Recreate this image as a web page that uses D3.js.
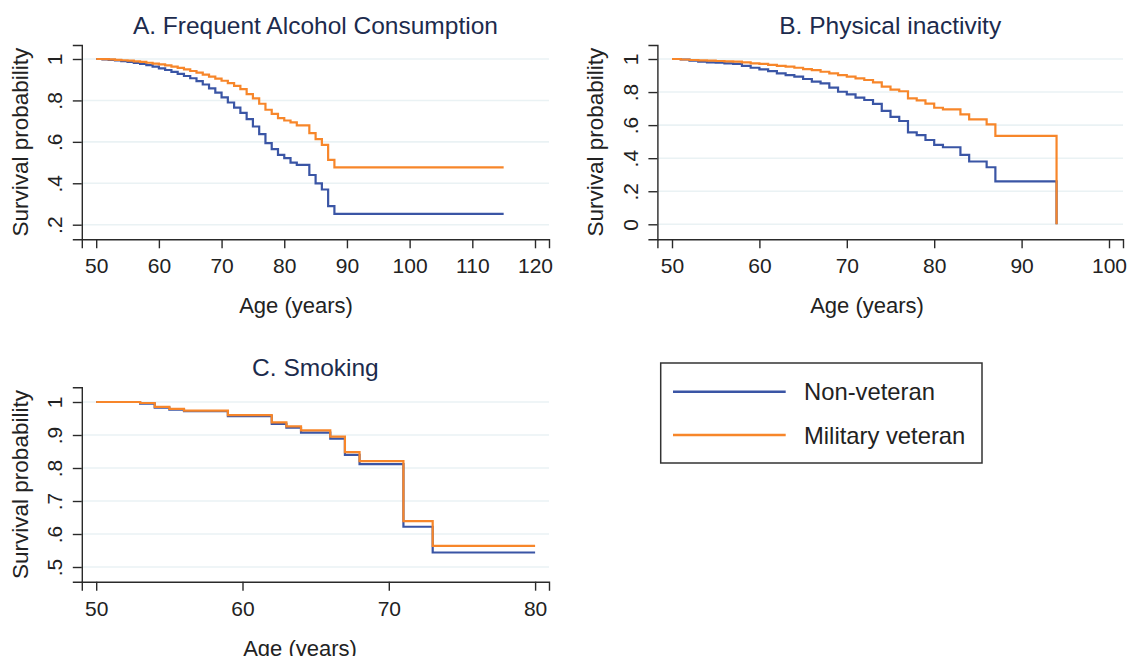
<!DOCTYPE html>
<html>
<head>
<meta charset="utf-8">
<script src="https://cdn.jsdelivr.net/npm/d3@7"></script>
<style>
  body { margin: 0; background: #fff; }
  svg { display: block; }
</style>
</head>
<body>
<div id="chart"></div>
<script>

var width = 1129
var height = 656

// survival data (age in years, survival probability)
var alcoholAges = [50,51,52,53,54,55,56,57,58,59,60,61,62,63,64,65,66,67,68,69,70,71,72,73,74,75,76,77,78,79,80,81,82,83,84,85,86,87,88,115];
var alcoholNonVet = [1.0,0.998,0.996,0.993,0.99,0.986,0.981,0.976,0.97,0.963,0.955,0.947,0.938,0.928,0.918,0.907,0.893,0.877,0.858,0.838,0.815,0.79,0.765,0.74,0.71,0.674,0.637,0.594,0.565,0.537,0.521,0.50,0.489,0.489,0.44,0.40,0.37,0.29,0.252,0.252];
var alcoholVet = [1.0,0.999,0.998,0.996,0.994,0.992,0.989,0.986,0.982,0.978,0.974,0.969,0.963,0.957,0.95,0.942,0.934,0.925,0.915,0.905,0.895,0.884,0.87,0.855,0.83,0.81,0.784,0.755,0.735,0.715,0.703,0.694,0.68,0.68,0.642,0.613,0.585,0.513,0.477,0.477];

var inactAges = [50,51,52,53,54,55,56,57,58,59,60,61,62,63,64,65,66,67,68,69,70,71,72,73,74,75,76,77,78,79,80,81,82,83,84,85,86,87,94];
var inactNonVet = [1.0,0.997,0.99,0.984,0.98,0.978,0.974,0.97,0.958,0.947,0.937,0.927,0.913,0.903,0.893,0.879,0.863,0.853,0.827,0.802,0.786,0.766,0.752,0.728,0.686,0.65,0.625,0.556,0.54,0.51,0.48,0.466,0.466,0.42,0.38,0.38,0.345,0.26,0];
var inactVet = [1.0,0.997,0.994,0.992,0.99,0.988,0.986,0.984,0.98,0.974,0.97,0.964,0.958,0.954,0.947,0.939,0.933,0.923,0.913,0.903,0.893,0.883,0.873,0.859,0.833,0.815,0.805,0.762,0.75,0.73,0.705,0.695,0.695,0.665,0.635,0.635,0.605,0.535,0];

var smokeAges = [50,53,54,55,56,59,62,63,64,66,67,68,71,73,80];
var smokeNonVet = [1.0,0.995,0.983,0.977,0.972,0.957,0.934,0.922,0.907,0.889,0.84,0.812,0.622,0.544,0.544];
var smokeVet = [1.0,0.997,0.985,0.979,0.974,0.96,0.938,0.926,0.914,0.895,0.848,0.821,0.639,0.564,0.564];

// tick labels
var alcoholXTicks = [50,60,70,80,90,100,110,120];
var alcoholYTicks = [0.2,0.4,0.6,0.8,1];
var inactXTicks = [50,60,70,80,90,100];
var inactYTicks = [0,0.2,0.4,0.6,0.8,1];
var smokeXTicks = [50,60,70,80];
var smokeYTicks = [0.5,0.6,0.7,0.8,0.9,1];

var seriesNames = ["Non-veteran", "Military veteran"];
var seriesColors = ["#3a55a5", "#f7862a"];

var font = "'Liberation Sans', Arial, Helvetica, sans-serif";

var svg = d3.select("#chart").append("svg")
    .attr("width", width)
    .attr("height", height);

function fmtProb(d) {
    if (d === 0) return "0";
    if (d === 1) return "1";
    return d3.format(".1f")(d).replace("0.", ".");
}

function drawPanel(p) {
    // scales: calibrate on the tick values, then stretch to the axis line extent
    var x = d3.scaleLinear().domain(p.xCal).range(p.xCalPx);
    x.domain([x.invert(p.left), x.invert(p.right)]).range([p.left, p.right]);
    var y = d3.scaleLinear().domain(p.yCal).range(p.yCalPx);
    y.domain([y.invert(p.bottom), y.invert(p.top)]).range([p.bottom, p.top]);

    var g = svg.append("g");

    // grid
    g.selectAll(".grid")
        .data(p.yTicks)
        .enter().append("line")
        .attr("x1", p.left)
        .attr("x2", p.right)
        .attr("y1", function(d) { return y(d); })
        .attr("y2", function(d) { return y(d); })
        .attr("stroke", "#eaf2f4")
        .attr("stroke-width", 1.6);

    // curves
    var line = d3.line()
        .x(function(d) { return x(d[0]); })
        .y(function(d) { return y(d[1]); })
        .curve(d3.curveStepAfter);

    [p.nonVet, p.vet].forEach(function(vals, k) {
        var pts = p.ages.map(function(a, i) { return [a, vals[i]]; });
        g.append("path")
            .datum(pts)
            .attr("d", line)
            .attr("fill", "none")
            .attr("stroke", seriesColors[k])
            .attr("stroke-width", 2.2);
    });

    // x axis
    var xa = g.append("g")
        .attr("transform", "translate(0," + p.bottom + ")")
        .call(d3.axisBottom(x).tickValues(p.xTicks).tickSizeOuter(0).tickSize(9));
    xa.selectAll("text")
        .attr("y", 34)
        .attr("dy", 0)
        .attr("fill", "#222")
        .style("font-size", "21px");

    // y axis
    var ya = g.append("g")
        .attr("transform", "translate(" + p.left + ",0)")
        .call(d3.axisLeft(y).tickValues(p.yTicks).tickFormat(fmtProb).tickSizeOuter(0).tickSize(9));
    ya.selectAll("text")
        .attr("transform", "rotate(-90)")
        .attr("x", 0)
        .attr("y", -19.5)
        .attr("dy", 0)
        .attr("fill", "#222")
        .style("text-anchor", "middle")
        .style("font-size", "21px");

    g.selectAll(".domain, .tick line")
        .attr("stroke", "#2a2a2a")
        .attr("stroke-width", 1.4);
    g.selectAll(".tick text").style("font-family", font);

    // titles
    g.append("text")
        .text(p.title)
        .attr("x", (p.left + p.right) / 2)
        .attr("y", p.top - 11)
        .attr("text-anchor", "middle")
        .attr("font-family", font)
        .attr("font-size", "24.5px")
        .attr("fill", "#1c2b4d");

    g.append("text")
        .text("Age (years)")
        .attr("x", p.xTitleX)
        .attr("y", p.bottom + 74)
        .attr("text-anchor", "middle")
        .attr("font-family", font)
        .attr("font-size", "22px")
        .attr("fill", "#222");

    g.append("text")
        .text("Survival probability")
        .attr("transform", "translate(" + (p.left - 54.3) + "," + ((p.top + p.bottom) / 2) + ") rotate(-90)")
        .attr("text-anchor", "middle")
        .attr("font-family", font)
        .attr("font-size", "22.5px")
        .attr("fill", "#222");
}

drawPanel({
    title: "A. Frequent Alcohol Consumption",
    ages: alcoholAges, nonVet: alcoholNonVet, vet: alcoholVet,
    xTicks: alcoholXTicks, yTicks: alcoholYTicks,
    xCal: [50, 120], xCalPx: [96.2, 535],
    yCal: [0.2, 1], yCalPx: [224.7, 59],
    left: 81.8, right: 549, top: 45, bottom: 239.3,
    xTitleX: 296
});

drawPanel({
    title: "B. Physical inactivity",
    ages: inactAges, nonVet: inactNonVet, vet: inactVet,
    xTicks: inactXTicks, yTicks: inactYTicks,
    xCal: [50, 100], xCalPx: [672, 1109],
    yCal: [0, 1], yCalPx: [224.3, 59],
    left: 657.4, right: 1123, top: 45, bottom: 239.3,
    xTitleX: 867
});

drawPanel({
    title: "C. Smoking",
    ages: smokeAges, nonVet: smokeNonVet, vet: smokeVet,
    xTicks: smokeXTicks, yTicks: smokeYTicks,
    xCal: [50, 80], xCalPx: [96.2, 535.1],
    yCal: [0.5, 1], yCalPx: [567, 402],
    left: 81.8, right: 549, top: 387.3, bottom: 581.7,
    xTitleX: 300
});

// legend
var legend = svg.append("g");
legend.append("rect")
    .attr("x", 660.7)
    .attr("y", 363)
    .attr("width", 321.3)
    .attr("height", 100)
    .attr("fill", "#fff")
    .attr("stroke", "#333")
    .attr("stroke-width", 1.5);

seriesNames.forEach(function(name, i) {
    var ly = 391.7 + i * 43.3;
    legend.append("line")
        .attr("x1", 673)
        .attr("x2", 785.7)
        .attr("y1", ly)
        .attr("y2", ly)
        .attr("stroke", seriesColors[i])
        .attr("stroke-width", 2.4);
    legend.append("text")
        .text(name)
        .attr("x", 804)
        .attr("y", ly + 8.6)
        .attr("font-family", font)
        .attr("font-size", "23.8px")
        .attr("fill", "#222");
});

</script>
</body>
</html>
